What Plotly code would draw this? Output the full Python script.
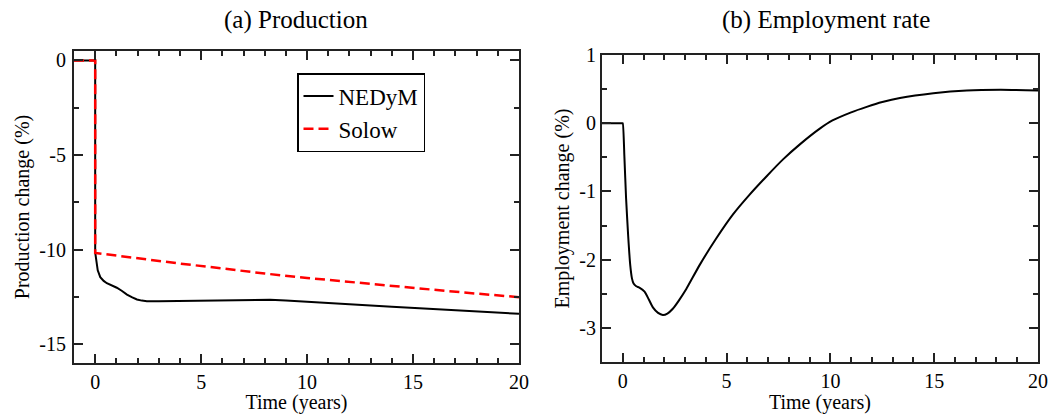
import plotly.graph_objects as go

# ---- data ----
t_nedym = [-1, 0, 0, 0.05, 0.12, 0.24, 0.4, 0.55, 0.8, 1.02, 1.25, 1.5, 1.75, 1.97, 2.2, 2.44,
           3.0, 4.0, 5.0, 5.6, 6.5, 7.5, 8.25, 9.0, 10.6, 12.0, 13.0, 14.0, 15.3, 16.5, 17.7, 19.0, 20.0]
y_nedym = [0, 0, -10.15, -10.7, -11.1, -11.46, -11.66, -11.78, -11.9, -12.02, -12.18, -12.38, -12.53, -12.64, -12.7, -12.73,
           -12.74, -12.73, -12.71, -12.7, -12.68, -12.66, -12.66, -12.7, -12.79, -12.88, -12.96, -13.02, -13.1, -13.17, -13.24, -13.32, -13.4]

t_solow = [-1, 0, 0, 2, 4, 6, 8, 10, 12, 14, 16, 18, 20]
y_solow = [0, 0, -10.18, -10.47, -10.74, -11.0, -11.27, -11.5, -11.72, -11.93, -12.13, -12.33, -12.52]

t_emp = [-1, -0.03, 0, 0.08, 0.16, 0.26, 0.36, 0.44, 0.52, 0.65, 0.8, 1.05, 1.25, 1.45, 1.7, 1.93, 2.15, 2.41, 2.7, 3.06,
         3.7, 4.5, 5.3, 6.1, 6.92, 7.72, 8.53, 9.49, 10.1, 11.0, 11.75, 12.5, 13.35, 14.96, 16.57, 18.2, 20]
y_emp = [0, 0, 0, -0.5, -1.1, -1.65, -2.08, -2.27, -2.35, -2.39, -2.41, -2.47, -2.58, -2.70, -2.78, -2.81, -2.79, -2.72, -2.6, -2.43,
         -2.08, -1.69, -1.34, -1.05, -0.78, -0.53, -0.31, -0.08, 0.04, 0.16, 0.24, 0.31, 0.37, 0.44, 0.48, 0.49, 0.48]

x_ticks = [0, 5, 10, 15, 20]
x_labels = ["0", "5", "10", "15", "20"]
y1_ticks = [0, -5, -10, -15]
y1_labels = ["0", "-5", "-10", "-15"]
y2_ticks = [1, 0, -1, -2, -3]
y2_labels = ["1", "0", "-1", "-2", "-3"]

FONT = "Liberation Serif, Times New Roman, serif"

fig = go.Figure()
fig.add_trace(go.Scatter(x=t_nedym, y=y_nedym, mode="lines", name="NEDyM",
                         line=dict(color="black", width=2), xaxis="x", yaxis="y"))
fig.add_trace(go.Scatter(x=t_solow, y=y_solow, mode="lines", name="Solow",
                         line=dict(color="#ff0000", width=2.5, dash="10px,5px"), xaxis="x", yaxis="y"))
fig.add_trace(go.Scatter(x=t_emp, y=y_emp, mode="lines", name="Employment", showlegend=False,
                         line=dict(color="black", width=2, shape="spline", smoothing=0.5),
                         xaxis="x2", yaxis="y2"))

axis_common = dict(showline=True, linecolor="#222", linewidth=2, mirror="allticks",
                   ticks="inside", ticklen=9, tickwidth=1.5, tickcolor="#222",
                   showgrid=False, zeroline=False, automargin=False,
                   tickfont=dict(family=FONT, size=20, color="black"))
minor_common = dict(ticks="inside", ticklen=5, tickwidth=1.5, tickcolor="#222")

fig.update_layout(
    width=1051, height=414,
    margin=dict(l=0, r=0, t=0, b=0, autoexpand=False),
    paper_bgcolor="white", plot_bgcolor="white",
    font=dict(family=FONT, color="black"),
    xaxis=dict(domain=[74/1051, 519/1051], range=[-1, 20], tickvals=x_ticks, ticktext=x_labels,
               anchor="y", ticklabelstandoff=0,
               title=dict(text="Time (years)", font=dict(family=FONT, size=20), standoff=0),
               minor=dict(minor_common, dtick=1, tick0=0), **axis_common),
    yaxis=dict(domain=[(414-363)/414, (414-51)/414], range=[-16, 0.5], tickvals=y1_ticks, ticktext=y1_labels,
               anchor="x", ticklabelstandoff=2,
               title=dict(text="Production change (%)", font=dict(family=FONT, size=20), standoff=4),
               minor=dict(minor_common, dtick=2.5, tick0=0), **axis_common),
    xaxis2=dict(domain=[602/1051, 1038/1051], range=[-1, 20], tickvals=x_ticks, ticktext=x_labels,
                anchor="y2", ticklabelstandoff=0,
                title=dict(text="Time (years)", font=dict(family=FONT, size=20), standoff=0),
                minor=dict(minor_common, dtick=1, tick0=0), **axis_common),
    yaxis2=dict(domain=[(414-362)/414, (414-55)/414], range=[-3.5, 1], tickvals=y2_ticks, ticktext=y2_labels,
                anchor="x2", ticklabelstandoff=0,
                title=dict(text="Employment change (%)", font=dict(family=FONT, size=20), standoff=4),
                minor=dict(minor_common, dtick=0.5, tick0=0), **axis_common),
    legend=dict(x=297/1051, y=(414-73)/414, xanchor="left", yanchor="top",
                bgcolor="white", bordercolor="black", borderwidth=1.5,
                font=dict(family=FONT, size=23, color="black"),
                itemwidth=30, tracegroupgap=0),
    showlegend=True,
    annotations=[
        dict(text="(a) Production", x=296/1051, y=1 - 20/414, xref="paper", yref="paper",
             showarrow=False, xanchor="center", yanchor="middle",
             font=dict(family=FONT, size=25, color="black")),
        dict(text="(b) Employment rate", x=826/1051, y=1 - 20/414, xref="paper", yref="paper",
             showarrow=False, xanchor="center", yanchor="middle",
             font=dict(family=FONT, size=25, color="black")),
    ],
)

fig.write_html("out.html", config={"displayModeBar": False},
               post_script="document.body.style.margin='0';document.body.style.overflow='hidden';")
